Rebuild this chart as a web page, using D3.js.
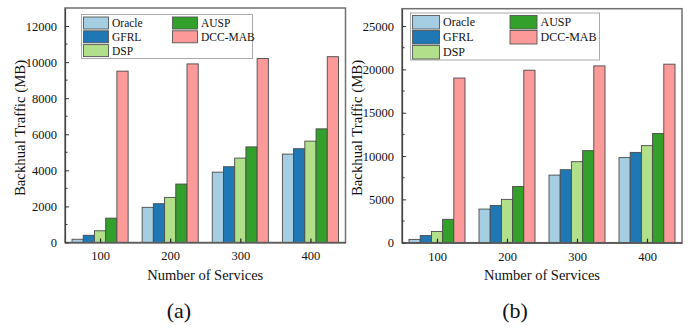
<!DOCTYPE html>
<html><head><meta charset="utf-8">
<script src="https://cdn.jsdelivr.net/npm/d3@7"></script>
<style>body{margin:0;background:#fff}svg{display:block}text{font-family:"Liberation Serif","Times New Roman",serif;fill:#111}</style>
</head><body>
<svg id="c" width="697" height="330"></svg>
<script>
const categories = [100, 200, 300, 400];
const seriesNames = ["Oracle", "GFRL", "DSP", "AUSP", "DCC-MAB"];
const seriesColors = ["#a6cee3", "#1f78b4", "#b2df8a", "#33a02c", "#fb9a99"];
// Panel (a)
const oracleA = [180, 1950, 3900, 4900];
const gfrlA   = [400, 2150, 4200, 5200];
const dspA    = [650, 2500, 4680, 5620];
const auspA   = [1350, 3240, 5300, 6300];
const dccA    = [9500, 9900, 10200, 10300];
const yTicksA = [0, 2000, 4000, 6000, 8000, 10000, 12000];
// Panel (b)
const oracleB = [380, 3880, 7800, 9820];
const gfrlB   = [820, 4300, 8420, 10420];
const dspB    = [1300, 5000, 9350, 11200];
const auspB   = [2700, 6480, 10620, 12600];
const dccB    = [19000, 19900, 20400, 20600];
const yTicksB = [0, 5000, 10000, 15000, 20000, 25000];

const svg = d3.select("#c");

function panel(cfg, series, yTicks, minorStep, caption){
  const g = svg.append("g");
  const x = d3.scaleLinear().domain([50, 450]).range([cfg.left, cfg.right]);
  const y = d3.scaleLinear().domain([0, cfg.ymax]).range([cfg.bottom, cfg.top]);
  const bw = 16;
  // bars
  series.forEach((vals, si) => {
    g.selectAll(null).data(vals).enter().append("rect")
      .attr("x", (d, i) => x(categories[i] + (si - 2.5) * bw))
      .attr("width", x(bw) - x(0))
      .attr("y", d => y(d))
      .attr("height", d => y(0) - y(d))
      .attr("fill", seriesColors[si])
      .attr("stroke", "#4a4a4a").attr("stroke-width", 0.9);
  });
  // frame
  g.append("rect").attr("x", cfg.left).attr("y", cfg.top)
    .attr("width", cfg.right - cfg.left).attr("height", cfg.bottom - cfg.top)
    .attr("fill", "none").attr("stroke", "#707070").attr("stroke-width", 1.5);
  // y axis
  const ya = d3.axisLeft(y).tickValues(yTicks).tickSizeInner(-4).tickSizeOuter(0).tickPadding(8).tickFormat(d3.format("d"));
  const yg = g.append("g").attr("transform", `translate(${cfg.left},0)`).call(ya);
  yg.select(".domain").attr("stroke", "#444").attr("stroke-width", 1.2);
  yg.selectAll(".tick line").attr("stroke", "#333");
  yg.selectAll("text").style("font-size", "12.5px").attr("fill", "#111");
  const minors = d3.range(minorStep, cfg.ymax, minorStep * 2);
  g.selectAll(null).data(minors).enter().append("line")
    .attr("x1", cfg.left).attr("x2", cfg.left + 2.5)
    .attr("y1", d => y(d)).attr("y2", d => y(d)).attr("stroke", "#333");
  // x axis
  const xa = d3.axisBottom(x).tickValues(categories).tickSizeInner(-4).tickSizeOuter(0).tickPadding(9).tickFormat(d3.format("d"));
  const xg = g.append("g").attr("transform", `translate(0,${cfg.bottom})`).call(xa);
  xg.select(".domain").attr("stroke", "#444").attr("stroke-width", 1.2);
  xg.selectAll(".tick line").attr("stroke", "#222").attr("stroke-width", 1.2);
  xg.selectAll("text").style("font-size", "12.5px").attr("fill", "#111");
  // titles
  g.append("text").attr("x", (cfg.left + cfg.right) / 2).attr("y", 280)
    .attr("text-anchor", "middle").style("font-size", "14.5px").text("Number of Services");
  g.append("text").attr("transform", `translate(${cfg.ytx},128) rotate(-90)`)
    .attr("text-anchor", "middle").attr("dy", "0.35em").style("font-size", "14.8px").text("Backhual Traffic (MB)");
  g.append("text").attr("x", cfg.capx).attr("y", 318)
    .attr("text-anchor", "middle").style("font-size", "22px").text(caption);
  // legend
  const L = cfg.legend;
  g.append("rect").attr("x", L.x).attr("y", L.y).attr("width", L.w).attr("height", L.h)
    .attr("fill", "#fff").attr("stroke", "#aaa").attr("stroke-width", 1);
  seriesNames.forEach((name, i) => {
    const col = i < 3 ? 0 : 1, row = i < 3 ? i : i - 3;
    const sx = L.x + 2 + col * L.colw, sy = L.y + 2.5 + row * L.rowh;
    g.append("rect").attr("x", sx).attr("y", sy).attr("width", L.sw).attr("height", L.sh)
      .attr("fill", seriesColors[i]).attr("stroke", "#555").attr("stroke-width", 0.9);
    g.append("text").attr("x", sx + L.sw + 3.5).attr("y", sy + L.sh / 2).attr("dy", "0.35em")
      .style("font-size", L.fs + "px").text(name);
  });
}

panel({left: 65, right: 345.5, top: 8, bottom: 242.5, ymax: 13000, ytx: 20, capx: 179,
       legend: {x: 81.5, y: 14.5, w: 171, h: 44, colw: 89, rowh: 13.8, sw: 25, sh: 12, fs: 11.5}},
      [oracleA, gfrlA, dspA, auspA, dccA], yTicksA, 1000, "(a)");
panel({left: 402, right: 682, top: 8.7, bottom: 242.7, ymax: 27000, ytx: 357, capx: 515,
       legend: {x: 410.5, y: 13, w: 189, h: 47, colw: 97.5, rowh: 15, sw: 27, sh: 13.5, fs: 12}},
      [oracleB, gfrlB, dspB, auspB, dccB], yTicksB, 2500, "(b)");
</script>
</body></html>
